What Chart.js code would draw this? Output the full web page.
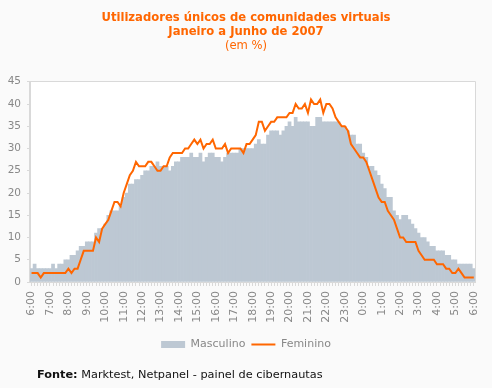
<!DOCTYPE html>
<html>
<head>
<meta charset="utf-8">
<script src="https://cdn.jsdelivr.net/npm/chart.js@4/dist/chart.umd.min.js"></script>
<style>
  html, body { margin: 0; padding: 0; background: #FAFAFA; }
  #wrap { position: relative; width: 492px; height: 388px; }
  #c { position: absolute; left: 0; top: 0; }
  #foot { position: absolute; left: 37px; top: 368px; font: 11.3px "DejaVu Sans", Verdana, sans-serif; color: #111; white-space: nowrap; }
</style>
</head>
<body>
<div id="wrap">
  <canvas id="c" width="492" height="388"></canvas>
  <div id="foot"><b>Fonte:</b> Marktest, Netpanel - painel de cibernautas</div>
</div>
<script>
// Hour tick labels (one every 6 ten-minute slots)
const hourLabels = ['6:00','7:00','8:00','9:00','10:00','11:00','12:00','13:00','14:00','15:00','16:00','17:00','18:00','19:00','20:00','21:00','22:00','23:00','0:00','1:00','2:00','3:00','4:00','5:00','6:00'];
const slotsPerHour = 6;

// Masculino (%), 10-minute slots from 6:00 to 6:00
const masculino = [
  3,4,3,3,3,3,3,4,3,4,4,5,5,6,6,7,8,8,9,9,9,11,12,12,13,15,16,16,16,17,19,20,22,22,23,23,24,25,25,26,26,27,26,26,26,
  25,26,27,27,28,28,28,29,28,28,29,27,28,29,29,28,28,27,28,29,29,29,29,30,30,30,30,30,31,32,31,31,33,34,34,34,33,34,35,36,35,37,36,36,36,36,35,35,37,37,36,
  36,36,36,36,36,35,35,34,33,33,31,31,29,28,26,26,25,24,22,21,19,19,16,15,14,15,15,14,13,12,11,10,10,9,8,8,7,7,7,6,6,5,5,4,4,4,4,4,3
];

// Feminino (%), same slots
const feminino = [
  2,2,2,1,2,2,2,2,2,2,2,2,3,2,3,3,5,7,7,7,7,10,9,12,13,14,16,18,18,17,20,22,24,25,27,26,26,26,27,27,26,25,25,26,26,
  28,29,29,29,29,30,30,31,32,31,32,30,31,31,32,30,30,30,31,29,30,30,30,30,29,31,31,32,33,36,36,34,35,36,36,37,37,37,37,38,38,40,39,39,40,38,41,40,40,41,38,
  40,40,39,37,36,35,35,34,31,30,29,28,28,27,25,23,21,19,18,18,16,15,14,12,10,10,9,9,9,9,7,6,5,5,5,5,4,4,4,3,3,2,2,3,2,1,1,1,1
];

const categories = [];
hourLabels.forEach((h, k) => {
  const n = (k === hourLabels.length - 1) ? 1 : slotsPerHour;
  for (let j = 0; j < n; j++) categories.push(j === 0 ? h : '');
});

const plotBox = {
  id: 'plotBox',
  beforeDraw(chart) {
    const { ctx, chartArea: a } = chart;
    ctx.save();
    ctx.fillStyle = '#FFFFFF';
    ctx.fillRect(a.left, a.top, a.right - a.left, a.bottom - a.top);
    ctx.restore();
  },
  afterDatasetsDraw(chart) {
    const { ctx, chartArea: a } = chart;
    ctx.save();
    ctx.strokeStyle = '#D9D9D9';
    ctx.lineWidth = 1;
    ctx.beginPath();
    ctx.moveTo(Math.round(a.left) - 0.5, Math.round(a.bottom));
    ctx.lineTo(Math.round(a.left) - 0.5, Math.round(a.top) - 0.5);
    ctx.lineTo(Math.round(a.right) + 0.5, Math.round(a.top) - 0.5);
    ctx.lineTo(Math.round(a.right) + 0.5, Math.round(a.bottom));
    ctx.stroke();
    ctx.restore();
  }
};

const FONT = '"DejaVu Sans", Verdana, sans-serif';

new Chart(document.getElementById('c'), {
  type: 'bar',
  data: {
    labels: categories,
    datasets: [
      {
        type: 'bar',
        label: 'Masculino',
        data: masculino,
        backgroundColor: '#BDC8D3',
        borderWidth: 0,
        barPercentage: 1,
        categoryPercentage: 1,
        order: 1,
        pointStyle: 'rect'
      },
      {
        type: 'line',
        label: 'Feminino',
        data: feminino,
        borderColor: '#FF6600',
        backgroundColor: '#FF6600',
        borderWidth: 2,
        pointRadius: 0,
        tension: 0,
        fill: false,
        order: 0,
        pointStyle: 'line'
      }
    ]
  },
  options: {
    responsive: false,
    animation: false,
    events: [],
    layout: { padding: { left: 0, right: 0, top: 0, bottom: 28 } },
    scales: {
      x: {
        offset: true,
        grid: { display: true, drawOnChartArea: false, drawTicks: true, tickLength: 4, color: '#D9D9D9', offset: false },
        border: { display: true, color: '#D9D9D9' },
        ticks: {
          autoSkip: false,
          maxRotation: 90,
          minRotation: 90,
          padding: 5,
          color: '#888888',
          font: { family: FONT, size: 11 }
        },
        afterFit(scale) { scale.height = 51; }
      },
      y: {
        min: 0,
        max: 45,
        ticks: { stepSize: 5, color: '#888888', padding: 6, font: { family: FONT, size: 10.5 } },
        grid: { display: true, drawOnChartArea: false, drawTicks: true, tickLength: 3, color: '#D9D9D9' },
        border: { display: true, color: '#D9D9D9' },
        afterFit(scale) { scale.width = 30; }
      }
    },
    plugins: {
      title: {
        display: true,
        text: ['Utilizadores únicos de comunidades virtuais', 'Janeiro a Junho de 2007'],
        color: '#FF6600',
        font: { family: FONT, size: 11.6, weight: 'bold', lineHeight: 1.2 },
        padding: { top: 11, bottom: 0 }
      },
      subtitle: {
        display: true,
        text: '(em %)',
        color: '#FF6600',
        font: { family: FONT, size: 11.6, weight: 'normal', lineHeight: 1.2 },
        padding: { top: 0, bottom: 29 }
      },
      legend: {
        position: 'bottom',
        labels: {
          usePointStyle: true,
          pointStyleWidth: 24,
          boxHeight: 7,
          padding: 6,
          color: '#888888',
          font: { family: FONT, size: 11 },
          sort: (a, b) => a.datasetIndex - b.datasetIndex
        }
      },
      tooltip: { enabled: false }
    }
  },
  plugins: [plotBox]
});
</script>
</body>
</html>
